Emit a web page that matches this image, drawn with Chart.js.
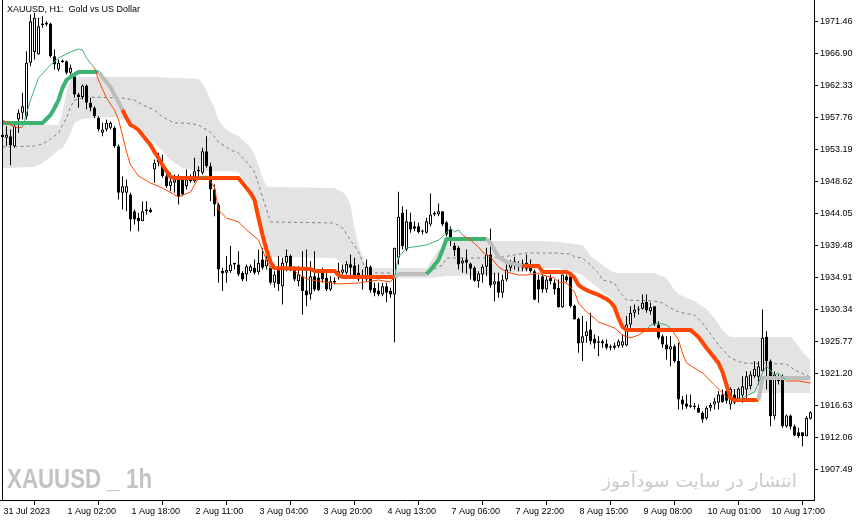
<!DOCTYPE html>
<html><head><meta charset="utf-8">
<script src="https://cdn.jsdelivr.net/npm/chart.js@4.4.1/dist/chart.umd.min.js"></script>
<style>html,body{margin:0;padding:0;background:#fff;overflow:hidden}canvas{display:block}</style>
</head><body>
<canvas id="c" width="866" height="522"></canvas>
<script>
// ---- H1 candles, bar index 0 = 31 Jul 2023 09:00 ----
const openP = [
1955.30,1954.87,1955.11,1953.68,1957.49,1958.44,1957.96,1965.58,1967.13,1966.77,
1971.00,1971.06,1971.20,1966.53,1964.63,1965.70,1965.82,1964.15,1963.68,1961.06,
1960.72,1962.34,1959.87,1959.15,1957.72,1955.58,1956.06,1956.30,1956.30,1953.68,
1947.01,1947.01,1946.77,1944.39,1943.44,1942.96,1944.39,1944.63,1950.35,1951.39,
1951.06,1949.39,1947.96,1948.44,1948.92,1949.00,1947.96,1949.16,1948.68,1950.06,
1949.87,1952.97,1950.82,1947.50,1945.35,1935.83,1935.58,1935.82,1936.78,1936.78,
1935.58,1935.35,1935.82,1936.30,1935.68,1937.49,1936.54,1936.30,1934.16,1936.30,
1933.68,1937.01,1937.97,1936.30,1934.39,1935.11,1933.06,1932.49,1935.11,1934.90,
1935.58,1934.87,1933.20,1934.20,1935.10,1935.58,1935.58,1936.80,1936.63,1935.58,
1934.70,1934.63,1936.44,1933.44,1933.06,1932.49,1933.68,1932.97,1932.49,1937.73,
1944.16,1938.92,1942.87,1942.25,1942.25,1941.63,1941.30,1942.49,1944.16,1943.92,
1944.39,1942.82,1941.78,1939.50,1939.16,1936.92,1937.49,1936.92,1936.30,1934.39,
1935.35,1936.44,1938.20,1933.92,1934.39,1932.73,1934.63,1936.30,1937.25,1936.78,
1936.92,1936.16,1936.44,1935.82,1934.63,1935.11,1933.20,1934.87,1934.16,1933.44,
1930.68,1935.10,1935.11,1930.92,1929.01,1925.58,1926.54,1927.49,1926.16,1925.82,
1925.82,1925.49,1925.11,1924.87,1925.11,1925.20,1925.20,1928.20,1929.87,1930.30,
1930.44,1931.40,1930.11,1930.82,1928.20,1926.54,1925.35,1924.63,1925.11,1922.97,
1917.49,1916.92,1916.68,1916.60,1916.30,1915.58,1914.80,1916.30,1916.78,1917.01,
1918.20,1918.70,1916.77,1918.20,1917.58,1918.06,1918.92,1919.39,1920.82,1920.72,
1921.53,1926.44,1922.96,1915.11,1920.72,1920.72,1913.68,1915.20,1913.68,1912.82,
1912.82,1912.25,1914.72];
const highP = [
1956.50,1956.53,1956.06,1956.77,1958.92,1961.30,1967.25,1972.49,1972.73,1972.01,
1972.25,1971.53,1971.30,1967.49,1966.06,1966.06,1965.90,1965.34,1963.92,1961.30,
1962.49,1962.49,1960.58,1959.39,1957.96,1957.01,1957.49,1957.25,1956.53,1953.92,
1949.39,1948.92,1947.01,1944.63,1944.15,1945.82,1945.82,1944.87,1951.78,1952.73,
1952.49,1950.35,1949.87,1949.63,1949.63,1949.30,1950.35,1949.63,1952.01,1950.82,
1953.44,1955.11,1951.30,1948.20,1945.58,1936.30,1937.97,1939.40,1937.01,1938.68,
1935.82,1936.78,1936.78,1937.49,1938.92,1939.16,1937.97,1936.54,1935.82,1937.97,
1937.73,1938.92,1938.20,1936.54,1936.54,1938.68,1938.92,1937.25,1938.68,1936.06,
1936.30,1935.58,1935.10,1934.90,1937.01,1936.78,1937.25,1938.20,1937.73,1936.78,
1936.06,1937.49,1936.63,1934.16,1934.16,1934.16,1934.16,1933.44,1939.16,1947.16,
1945.11,1944.63,1944.16,1942.97,1942.73,1941.78,1943.44,1946.92,1944.39,1945.49,
1944.39,1942.97,1942.25,1939.87,1939.40,1937.73,1938.92,1937.01,1936.54,1935.82,
1936.78,1939.16,1941.87,1935.58,1935.58,1935.35,1936.78,1937.40,1937.87,1937.25,
1937.49,1938.20,1937.49,1936.06,1935.35,1935.35,1935.11,1935.35,1934.63,1934.63,
1935.35,1935.35,1935.35,1931.06,1929.16,1929.40,1928.68,1929.87,1926.78,1926.54,
1926.06,1926.06,1925.35,1925.58,1926.06,1926.78,1929.40,1930.82,1931.06,1930.82,
1932.49,1932.49,1931.30,1930.82,1928.68,1926.78,1926.54,1926.54,1925.35,1925.58,
1917.97,1918.20,1918.20,1917.01,1916.78,1915.82,1916.54,1917.01,1917.73,1918.68,
1918.92,1919.00,1919.20,1919.00,1919.20,1920.82,1921.53,1921.53,1922.96,1922.96,
1930.34,1927.25,1923.20,1921.53,1921.06,1921.06,1915.35,1915.35,1913.91,1913.44,
1912.82,1915.11,1915.82];
const lowP = [
1953.50,1953.68,1950.96,1953.44,1955.58,1957.49,1957.49,1965.11,1966.06,1966.77,
1970.58,1970.82,1966.30,1964.63,1964.39,1965.58,1963.92,1963.92,1960.58,1959.15,
1960.34,1958.92,1958.68,1957.72,1955.82,1955.11,1955.82,1956.06,1953.44,1946.06,
1944.63,1944.39,1941.53,1942.49,1941.53,1942.96,1943.92,1944.15,1948.44,1950.82,
1949.16,1947.73,1947.25,1947.01,1945.35,1946.54,1947.49,1948.44,1948.44,1949.16,
1949.63,1950.58,1945.80,1943.68,1934.16,1932.97,1934.16,1935.58,1936.06,1935.11,
1934.39,1934.39,1935.58,1935.35,1935.35,1936.06,1936.06,1933.92,1933.44,1932.97,
1931.06,1935.82,1935.82,1934.39,1933.68,1929.63,1930.82,1931.78,1932.97,1932.97,
1934.16,1932.97,1932.97,1933.90,1934.63,1935.35,1935.35,1935.10,1934.87,1934.39,
1933.20,1934.39,1932.73,1932.25,1932.25,1932.25,1931.40,1932.01,1925.68,1936.78,
1938.92,1938.68,1941.30,1941.54,1941.20,1941.06,1941.20,1942.25,1943.68,1943.68,
1942.25,1940.82,1939.40,1937.97,1936.06,1935.58,1935.49,1934.63,1934.30,1933.44,
1934.16,1935.11,1933.44,1931.54,1932.01,1932.01,1934.39,1935.82,1936.06,1935.82,
1935.82,1935.82,1935.58,1931.68,1931.30,1932.73,1932.73,1933.92,1932.49,1930.58,
1930.58,1934.20,1930.58,1928.92,1924.16,1922.97,1925.58,1925.35,1924.73,1923.68,
1924.87,1924.63,1924.54,1924.63,1924.87,1924.87,1925.10,1927.73,1929.16,1929.63,
1930.35,1929.87,1929.63,1927.97,1926.06,1924.87,1923.20,1922.25,1922.73,1916.06,
1916.06,1916.16,1916.30,1916.06,1915.58,1914.16,1914.60,1915.80,1916.06,1916.06,
1917.01,1916.90,1916.06,1916.80,1917.30,1917.01,1917.49,1918.92,1920.58,1919.63,
1921.53,1918.92,1913.68,1914.63,1919.63,1913.44,1913.44,1913.20,1912.25,1912.01,
1910.82,1912.25,1914.63];
const closeP = [
1955.00,1955.34,1953.80,1956.53,1958.44,1959.39,1965.58,1971.53,1972.01,1970.82,
1971.20,1971.30,1966.53,1965.34,1965.58,1965.90,1964.15,1964.87,1961.06,1960.72,
1962.34,1959.87,1959.15,1957.96,1956.06,1956.06,1957.01,1957.01,1953.68,1947.01,
1947.96,1947.96,1943.20,1943.20,1942.96,1944.39,1944.63,1944.25,1951.30,1951.87,
1949.39,1947.96,1948.68,1948.92,1946.54,1946.77,1948.92,1948.68,1950.11,1950.30,
1952.97,1950.82,1947.50,1945.35,1936.06,1935.49,1935.97,1936.78,1937.00,1935.35,
1934.63,1936.54,1936.54,1935.58,1937.01,1936.30,1937.49,1934.16,1935.35,1934.00,
1937.01,1937.97,1936.30,1934.63,1935.35,1932.97,1932.35,1935.11,1933.20,1933.10,
1934.63,1933.20,1934.39,1934.40,1935.80,1936.06,1936.87,1936.30,1935.11,1934.63,
1935.30,1936.44,1933.11,1932.73,1932.49,1933.68,1932.73,1932.49,1939.16,1943.59,
1939.40,1942.97,1941.78,1941.87,1941.40,1941.45,1942.97,1943.92,1943.92,1944.39,
1942.49,1941.06,1940.35,1938.80,1936.78,1937.35,1937.01,1936.16,1934.45,1935.49,
1936.44,1938.20,1933.77,1934.39,1932.73,1934.63,1936.06,1937.01,1936.63,1936.44,
1936.25,1937.01,1935.82,1931.75,1933.20,1933.20,1934.63,1934.39,1933.20,1930.68,
1935.35,1934.50,1930.82,1928.92,1925.49,1926.54,1927.25,1925.82,1925.49,1925.58,
1925.49,1924.87,1924.87,1925.20,1925.82,1925.82,1928.20,1929.87,1930.35,1930.40,
1931.30,1930.25,1930.68,1928.20,1926.30,1925.35,1924.63,1925.11,1922.97,1917.49,
1916.78,1916.44,1916.44,1916.40,1915.58,1914.63,1916.30,1916.70,1917.25,1918.20,
1917.11,1917.30,1919.01,1917.01,1919.01,1919.39,1920.82,1921.06,1921.87,1922.25,
1926.30,1922.96,1915.11,1921.06,1920.11,1913.68,1915.20,1913.58,1912.34,1912.25,
1912.25,1914.87,1915.68];

// ---- axis ticks ----
const tickBars = [0,16,32,48,64,80,96,112,128,144,160,176,192];
const tickLabels = ["31 Jul 2023","1 Aug 02:00","1 Aug 18:00","2 Aug 11:00","3 Aug 04:00","3 Aug 20:00",
  "4 Aug 13:00","7 Aug 06:00","7 Aug 22:00","8 Aug 15:00","9 Aug 08:00","10 Aug 01:00","10 Aug 17:00"];
const priceTicks = [1907.49,1912.06,1916.63,1921.20,1925.77,1930.34,1934.91,1939.48,1944.05,1948.62,
  1953.19,1957.76,1962.33,1966.90,1971.46];

// ---- channel (cloud) ----
const cloudBars = [0,8,10,12,14,15,16,17,18,20,28,30,32,35,37,39,42,45,49,50,51,52,53,54,56,59,60,62,63,64,
  65,66,67,83,85,86,87,88,89,90,91,106,107,109,111,121,130,134,139,145,147,149,150,152,153,154,155,156,163,164,
  166,167,168,169,171,173,174,176,178,179,180,181,182,197,198,200,202];
const cloudUpper = [1956.70,1956.70,1956.70,1956.70,1956.70,1958.56,1961.42,1963.13,1963.56,1963.56,
  1963.56,1963.56,1963.56,1963.56,1963.56,1963.56,1963.42,1963.42,1963.27,1962.70,
  1961.56,1960.27,1959.13,1957.42,1955.99,1955.13,1954.56,1953.56,1952.42,1950.99,
  1949.13,1947.99,1947.85,1947.70,1947.13,1946.56,1945.27,1941.99,1939.56,1937.99,
  1936.27,1936.27,1937.13,1938.85,1940.13,1940.13,1940.13,1940.13,1939.99,1939.56,
  1937.99,1937.13,1936.70,1935.85,1935.70,1935.56,1935.56,1935.56,1935.56,1935.27,
  1934.85,1933.99,1933.13,1932.56,1931.99,1931.56,1931.13,1930.42,1929.13,1928.27,
  1927.42,1926.85,1926.42,1926.42,1925.85,1924.27,1923.13];
const cloudLower = [1950.56,1950.70,1951.27,1952.13,1953.13,1953.42,1954.27,1955.56,1956.99,1957.56,
  1957.85,1957.56,1957.27,1955.85,1954.70,1953.56,1951.70,1950.56,1950.13,1950.13,
  1950.13,1950.13,1950.13,1950.13,1950.13,1949.99,1949.13,1947.70,1946.27,1943.85,
  1941.42,1938.85,1937.85,1937.70,1936.85,1936.56,1935.99,1935.70,1935.42,1935.13,
  1934.85,1934.85,1934.85,1934.99,1935.13,1935.27,1935.70,1936.27,1936.27,1935.27,
  1934.27,1933.42,1932.85,1932.13,1931.42,1929.56,1928.13,1927.85,1927.56,1927.42,
  1927.13,1927.13,1927.13,1927.13,1927.13,1926.99,1925.99,1924.56,1922.85,1922.27,
  1920.99,1919.56,1918.42,1918.42,1918.42,1918.42,1918.42];
const midBars = [0,8,10,12,14,16,17,18,21,30,33,35,38,40,43,46,49,52,54,57,59,61,63,65,67,83,85,87,89,90,
  91,92,106,110,111,120,125,131,138,142,143,145,147,149,150,153,154,156,163,165,167,169,173,175,179,182,185,196,198,202];
const midLine = [1953.56,1953.70,1953.99,1954.70,1955.56,1957.70,1959.27,1960.27,1960.70,1960.56,
  1960.27,1959.56,1958.85,1957.85,1956.99,1956.99,1956.70,1955.70,1954.27,1953.13,
  1952.70,1951.42,1949.99,1946.42,1942.85,1942.70,1941.99,1940.27,1938.56,1937.13,
  1935.99,1935.56,1935.56,1936.70,1937.70,1937.70,1937.85,1938.42,1938.42,1938.27,
  1937.85,1937.70,1936.70,1935.56,1934.56,1934.13,1933.13,1931.70,1931.56,1931.27,
  1930.56,1929.99,1929.56,1928.42,1925.27,1923.42,1922.70,1922.56,1921.70,1920.70];

// ---- fast moving average ----
const fastBars = [0,2,4,5,7,9,12,14,17,19,20,21,23,24,26,28,29,30,31,32,34,37,40,44,47,49,51,53,54,56,
  59,61,64,65,66,67,69,72,75,77,79,84,89,94,97,98,99,101,106,109,111,112,113,114,115,117,119,120,122,124,
  126,129,131,134,135,138,139,141,143,144,146,148,149,153,155,157,159,161,162,164,166,167,169,170,171,175,
  178,181,183,184,188,189,190,191,193,194,196,199,202];
const fastLine = [1957.42,1956.70,1956.27,1956.42,1960.27,1963.42,1965.27,1966.27,1967.13,1967.56,
  1967.42,1966.27,1964.85,1963.13,1960.56,1958.85,1957.42,1955.27,1952.85,1950.99,
  1949.42,1948.42,1947.70,1946.42,1947.13,1949.13,1949.42,1947.85,1944.56,1943.42,
  1942.85,1941.70,1940.27,1938.85,1937.42,1936.27,1935.99,1936.27,1934.99,1934.56,
  1934.42,1933.99,1934.13,1934.56,1934.27,1934.99,1937.85,1939.13,1939.56,1940.27,
  1941.27,1941.99,1941.42,1941.70,1940.99,1940.27,1939.27,1938.56,1937.85,1936.42,
  1935.70,1935.27,1935.27,1935.56,1935.27,1934.85,1934.27,1934.13,1932.85,1931.27,
  1929.99,1929.13,1928.56,1927.70,1926.70,1926.27,1926.70,1927.42,1928.13,1928.42,
  1928.13,1927.70,1925.99,1924.13,1922.70,1921.27,1919.56,1917.85,1917.13,1917.42,
  1918.56,1919.85,1921.27,1922.27,1920.99,1921.27,1920.13,1920.13,1919.85];
const fastUpRanges = [[5,23],[49,51],[98,115],[161,167],[184,196]];

// ---- trailing stop line ----
const trailBars = [0,10,12,13,14,15,16,17,19,24,25,26,27,28,29,30,31,32,33,34,35,36,37,38,39,40,42,43,59,60,
  62,63,64,65,66,67,68,77,78,83,84,85,98,99,106,107,108,109,110,111,121,122,123,124,126,128,130,134,135,141,
  142,143,144,145,147,149,151,152,153,154,155,156,172,174,176,178,179,180,181,182,183,189,190,202];
const trailLine = [1956.99,1956.99,1958.13,1959.13,1960.27,1961.99,1963.13,1963.56,1964.27,1964.27,
  1963.56,1962.85,1962.13,1960.99,1959.99,1958.85,1957.70,1956.70,1956.42,1955.99,
  1955.27,1954.56,1953.85,1952.85,1951.99,1950.99,1949.27,1949.13,1949.13,1948.42,
  1946.99,1945.99,1943.42,1940.99,1938.85,1937.13,1936.27,1936.13,1935.85,1935.85,
  1935.27,1934.99,1934.99,1935.42,1935.42,1935.99,1936.70,1937.42,1938.85,1940.42,
  1940.42,1939.85,1938.85,1937.85,1937.13,1936.85,1936.56,1936.56,1935.70,1935.70,
  1935.42,1934.85,1933.85,1933.42,1932.85,1932.42,1931.85,1931.42,1930.70,1929.13,
  1927.85,1927.42,1927.42,1926.42,1924.85,1923.42,1922.70,1921.42,1919.56,1917.70,
  1917.42,1917.42,1920.56,1920.56];
const trailUpRanges = [[0,24],[106,121]];
const trailFlatRanges = [[24,30],[98,106],[121,130],[189,203]];

// ---- rendering ----
const GREEN = '#3cb371', RED = '#ff4500', SILVER = '#bdbdbd';
const inRanges = (b, rs) => rs.some(r => b >= r[0] && b < r[1]);
const pts = (xs, ys) => xs.map((x, i) => ({x: x, y: ys[i]}));
const barIdx = openP.map((_, i) => i);
const wickData = barIdx.map(i => ({x: i, y: [Math.min(lowP[i], openP[i], closeP[i]), Math.max(highP[i], openP[i], closeP[i])]}));
const bodyData = barIdx.map(i => ({x: i, y: [openP[i], closeP[i]]}));
const AXIS_FONT = {family: '"Liberation Sans", Arial, sans-serif', size: 9};

function fitText(ctx, text, x, y, w, font, color, align, rtl) {
  ctx.save();
  ctx.font = font; ctx.fillStyle = color; ctx.textBaseline = 'alphabetic';
  if (rtl) ctx.direction = 'rtl';
  const m = ctx.measureText(text).width || 1;
  ctx.translate(x, y); ctx.scale(w / m, 1);
  ctx.textAlign = align;
  ctx.fillText(text, 0, 0);
  ctx.restore();
}

const decor = {
  id: 'decor',
  beforeDatasetsDraw(chart) {
    const ctx = chart.ctx;
    fitText(ctx, 'XAUUSD _ 1h', 7, 488, 145, 'bold 28px "Liberation Sans Narrow", "Liberation Sans", Arial', '#c3c3c3', 'left', false);
    fitText(ctx, 'انتشار در سایت سودآموز', 797, 487, 195, '18px "DejaVu Sans", sans-serif', '#cbcbcb', 'right', true);
  },
  afterDraw(chart) {
    const ctx = chart.ctx, a = chart.chartArea;
    ctx.save();
    ctx.strokeStyle = '#000'; ctx.lineWidth = 1;
    ctx.beginPath(); ctx.moveTo(2.5, 0); ctx.lineTo(2.5, a.bottom); ctx.stroke();
    ctx.fillStyle = '#000'; ctx.font = '9px "Liberation Sans", Arial, sans-serif';
    ctx.textBaseline = 'middle'; ctx.textAlign = 'left';
    ctx.fillText('XAUUSD, H1:  Gold vs US Dollar', 7, 10);
    ctx.restore();
  }
};

new Chart(document.getElementById('c'), {
  type: 'bar',
  data: {
    datasets: [
      {type: 'line', data: pts(cloudBars, cloudUpper), borderColor: 'rgba(0,0,0,0)', borderWidth: 0, pointRadius: 0,
        fill: '+1', backgroundColor: '#e3e3e3', order: 10},
      {type: 'line', data: pts(cloudBars, cloudLower), borderColor: 'rgba(0,0,0,0)', borderWidth: 0, pointRadius: 0,
        fill: false, order: 9},
      {type: 'line', data: pts(midBars, midLine), borderColor: '#7f7f7f', borderWidth: 1, borderDash: [3, 3],
        pointRadius: 0, fill: false, order: 8},
      {type: 'bar', data: wickData, backgroundColor: '#000', borderWidth: 0, barThickness: 1, grouped: false,
        inflateAmount: 0, order: 6},
      {type: 'bar', data: bodyData, grouped: false, barThickness: 3, minBarLength: 1, inflateAmount: 0,
        borderWidth: 1, borderSkipped: false, borderColor: '#000',
        backgroundColor: c => (closeP[c.dataIndex] >= openP[c.dataIndex] ? '#fff' : '#000'), order: 5},
      {type: 'line', data: pts(trailBars, trailLine), borderWidth: 4, pointRadius: 0, fill: false,
        borderJoinStyle: 'round', borderColor: RED,
        segment: {borderColor: c => {
          const b = trailBars[c.p0DataIndex];
          return inRanges(b, trailUpRanges) ? GREEN : (inRanges(b, trailFlatRanges) ? SILVER : RED);
        }}, order: 3},
      {type: 'line', data: pts(fastBars, fastLine), borderWidth: 1, pointRadius: 0, fill: false, borderColor: RED,
        segment: {borderColor: c => (inRanges(fastBars[c.p0DataIndex], fastUpRanges) ? GREEN : RED)}, order: 2}
    ]
  },
  options: {
    responsive: false, animation: false, devicePixelRatio: 1, events: [],
    layout: {padding: 0},
    plugins: {legend: {display: false}, tooltip: {enabled: false}},
    scales: {
      x: {
        type: 'linear', min: -0.625, max: 202.875, offset: false, bounds: 'data',
        afterBuildTicks: s => { s.ticks = tickBars.map(v => ({value: v})); },
        afterFit: s => { s.height = 22; s.paddingLeft = 0; s.paddingRight = 0; },
        ticks: {autoSkip: false, maxRotation: 0, minRotation: 0, align: 'start', padding: 1, labelOffset: 1,
          color: '#000', font: AXIS_FONT, callback: v => tickLabels[tickBars.indexOf(v)]},
        grid: {drawOnChartArea: false, drawTicks: true, tickLength: 5, color: '#000'},
        border: {display: true, color: '#000', width: 1}
      },
      y: {
        type: 'linear', position: 'right', min: 1903.13, max: 1974.56, bounds: 'data',
        afterBuildTicks: s => { s.ticks = priceTicks.map(v => ({value: v})); },
        afterFit: s => { s.width = 52; s.paddingTop = 0; s.paddingBottom = 0; },
        ticks: {padding: 2, color: '#000', font: AXIS_FONT, callback: v => v.toFixed(2)},
        grid: {drawOnChartArea: false, drawTicks: true, tickLength: 4, color: '#000'},
        border: {display: true, color: '#000', width: 1}
      }
    }
  },
  plugins: [decor]
});
</script>
</body></html>
